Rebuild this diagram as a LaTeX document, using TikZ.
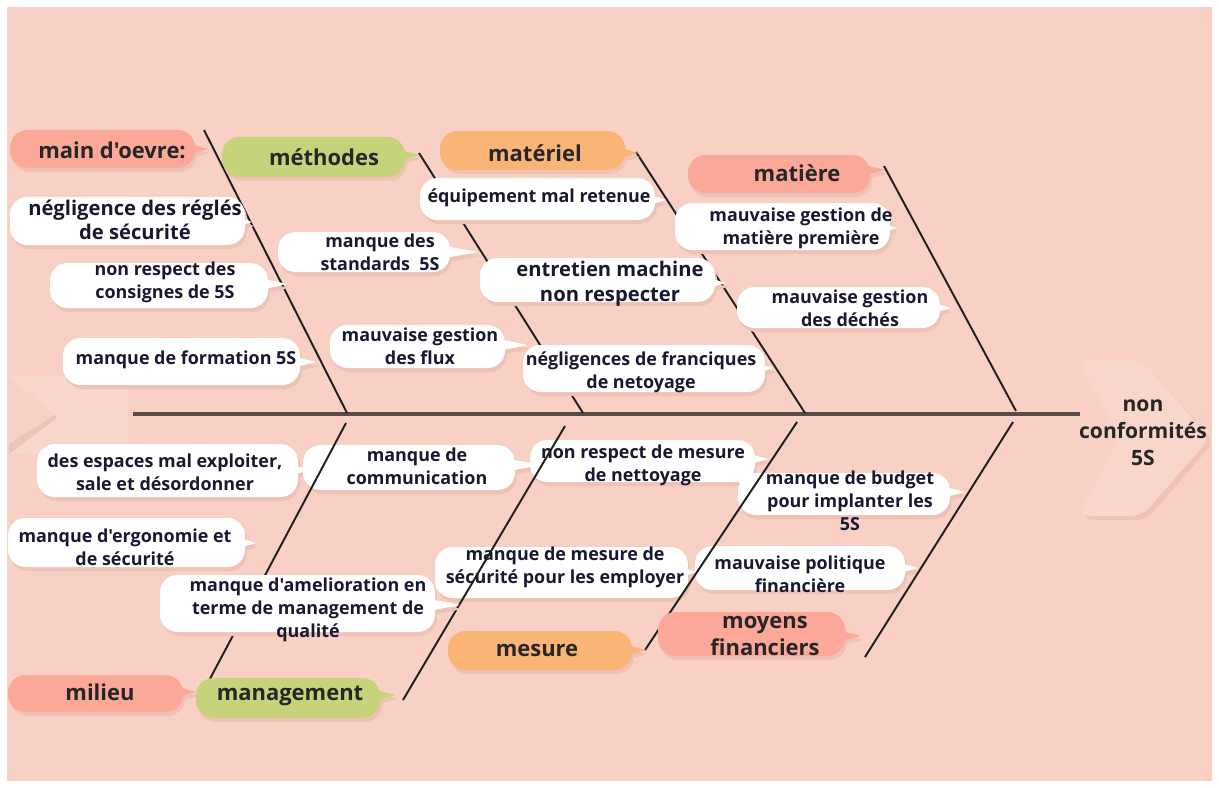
\documentclass[tikz,border=0pt]{standalone}
\usepackage{fontspec}
\defaultfontfeatures[\rmfamily]{}
\setmainfont{Open Sans}

\definecolor{fondrose}{RGB}{248,209,196}
\definecolor{pale}{RGB}{249,214,202}
\definecolor{ombre}{RGB}{238,194,181}
\definecolor{saumon}{RGB}{251,168,152}
\definecolor{vert}{RGB}{198,211,122}
\definecolor{orange}{RGB}{250,180,118}
\definecolor{encre}{RGB}{24,24,48}
\definecolor{trait}{RGB}{30,30,30}
\definecolor{epine}{RGB}{88,74,72}

\tikzset{
  os/.style={draw=trait, line width=1.1pt},
  arete/.style={draw=epine, line width=1.8pt},
  cause/.style={font=\bfseries\fontsize{10.2}{13}\selectfont, text=encre, align=center, inner sep=0pt},
  grande/.style={cause, font=\bfseries\fontsize{11.5}{14}\selectfont},
  categorie/.style={font=\bfseries\fontsize{12.5}{15}\selectfont, text=black!85, align=center, inner sep=0pt},
}

% bulle : [couleur]{x1}{y1}{x2}{y2}{pointe x}{pointe y}
\newcommand{\bulle}[7][white]{%
  \fill[ombre] (#2+2,#3+4) [rounded corners=10pt] rectangle (#4+2,#5+4);
  \fill[ombre] (#4-16+2,#7-8+4) -- (#6+2,#7+4) -- (#4-16+2,#7+8+4) -- cycle;
  \fill[#1] (#2,#3) [rounded corners=10pt] rectangle (#4,#5);
  \fill[#1] (#4-16,#7-8) -- (#6,#7) -- (#4-16,#7+8) -- cycle;
}

\begin{document}
\begin{tikzpicture}[x=0.02cm, y=-0.02cm]
\useasboundingbox (0,0) rectangle (1219,787);
\fill[white] (0,0) rectangle (1219,787);
\fill[fondrose] (7,7) rectangle (1212,781);

% tete et queue du poisson
\fill[ombre, rounded corners=6pt] (1082,364) -- (1146,364) -- (1214,442) -- (1146,520) -- (1082,520) -- (1124,442) -- cycle;
\fill[pale, rounded corners=6pt] (1078,360) -- (1142,360) -- (1210,438) -- (1142,516) -- (1078,516) -- (1120,438) -- cycle;
\fill[pale] (9,376) -- (128,376) -- (128,454) -- (9,454) -- (55,415) -- cycle;
\fill[ombre] (9,444) -- (55,415) -- (57,418) -- (9,454) -- cycle;

% arete centrale
\coordinate (queue) at (133,414);
\coordinate (tete) at (1080,414);
\draw[arete] (queue) -- (tete);
\node[categorie, font=\bfseries\fontsize{12}{15.5}\selectfont] (effet) at (1143,433) {non\\conformités\\5S};

% aretes du haut
\coordinate (mo-h) at (204,130); \coordinate (mo-b) at (347,413);
\coordinate (me-h) at (419,153); \coordinate (me-b) at (583,413);
\coordinate (ma-h) at (636,152); \coordinate (ma-b) at (805,413);
\coordinate (mt-h) at (884,166); \coordinate (mt-b) at (1016,411);
\draw[os] (mo-h) -- (mo-b);
\draw[os] (me-h) -- (me-b);
\draw[os] (ma-h) -- (ma-b);
\draw[os] (mt-h) -- (mt-b);

% categories du haut
\bulle[saumon]{10}{130}{195}{168}{208}{149}
\node[categorie] (main) at (112,150) {main d'oevre:};
\bulle[vert]{222}{137}{405}{177}{419}{155}
\node[categorie] (methodes) at (324,157) {méthodes};
\bulle[orange]{440}{131}{625}{170}{638}{153}
\node[categorie] (materiel) at (535,153) {matériel};
\bulle[saumon]{688}{155}{870}{193}{885}{170}
\node[categorie] (matiere) at (797,173) {matière};

% causes main d'oevre
\bulle{10}{197}{245}{245}{252}{222}
\node[grande] (regles) at (135,220) {négligence des réglés\\de sécurité};
\bulle{50}{263}{268}{308}{287}{284}
\node[cause] (consignes) at (165,282) {non respect des\\consignes de 5S};
\bulle{63}{338}{300}{385}{316}{362}
\node[cause] (formation) at (186,360) {manque de formation 5S};

% causes methodes
\bulle{278}{232}{450}{272}{478}{252}
\node[cause] (standards) at (380,252) {manque des\\standards~~5S};
\bulle{330}{325}{505}{368}{528}{345}
\node[cause] (flux) at (420,346) {mauvaise gestion\\des flux};

% causes materiel
\bulle{420}{178}{655}{220}{666}{200}
\node[cause] (equipement) at (539,198) {équipement mal retenue};
\bulle{480}{258}{715}{302}{726}{283}
\node[grande] (entretien) at (610,284) {entretien machine\\non respecter};
\bulle{523}{345}{765}{392}{773}{368}
\node[cause] (netoyage) at (641,372) {négligences de franciques\\de netoyage};

% causes matiere
\bulle{675}{203}{890}{250}{896}{228}
\node[cause] (premiere) at (801,228) {mauvaise gestion de\\matière première};
\bulle{737}{287}{940}{328}{951}{308}
\node[cause] (deches) at (850,308) {mauvaise gestion\\des déchés};

% causes du bas (sous les aretes)
\bulle{37}{444}{298}{497}{310}{470}
\node[cause] (espaces) at (165,472) {des espaces mal exploiter,\\sale et désordonner};
\bulle{8}{518}{245}{567}{256}{543}
\node[cause] (ergonomie) at (125,547) {manque d'ergonomie et\\de sécurité};
\bulle{303}{445}{515}{490}{541}{465}
\node[cause] (communication) at (417,466) {manque de\\communication};
\bulle{530}{440}{755}{482}{768}{459}
\node[cause] (nettoyage) at (643,465) {non respect de mesure\\de nettoyage};
\bulle{435}{547}{688}{598}{697}{572}
\node[cause] (employer) at (565,567) {manque de mesure de\\sécurité pour les employer};
\bulle{695}{546}{905}{590}{918}{568}
\node[cause] (politique) at (800,574) {mauvaise politique\\financière};
\bulle{738}{473}{950}{515}{965}{492}
\node[cause] (budget) at (850,501) {manque de budget\\pour implanter les\\5S};

% aretes du bas
\coordinate (mi-h) at (346,423); \coordinate (mi-b) at (204,690);
\coordinate (mg-h) at (565,426); \coordinate (mg-b) at (403,700);
\coordinate (ms-h) at (797,422); \coordinate (ms-b) at (645,650);
\coordinate (mf-h) at (1013,422); \coordinate (mf-b) at (865,657);
\draw[os] (mi-h) -- (mi-b);
\draw[os] (mg-h) -- (mg-b);
\draw[os] (ms-h) -- (ms-b);
\draw[os] (mf-h) -- (mf-b);

\bulle{160}{575}{435}{632}{460}{605}
\node[cause] (amelioration) at (308,610) {manque d'amelioration en\\terme de management de\\qualité};

% categories du bas
\bulle[saumon]{8}{675}{183}{712}{196}{692}
\node[categorie] (milieu) at (100,692) {milieu};
\bulle[vert]{196}{678}{380}{718}{396}{695}
\node[categorie] (management) at (290,696) {management};
\bulle[orange]{448}{631}{632}{670}{646}{650}
\node[categorie] (mesure) at (537,650) {mesure};
\bulle[saumon]{658}{612}{845}{656}{861}{636}
\node[categorie] (moyens) at (765,636) {moyens\\financiers};
\end{tikzpicture}
\end{document}
